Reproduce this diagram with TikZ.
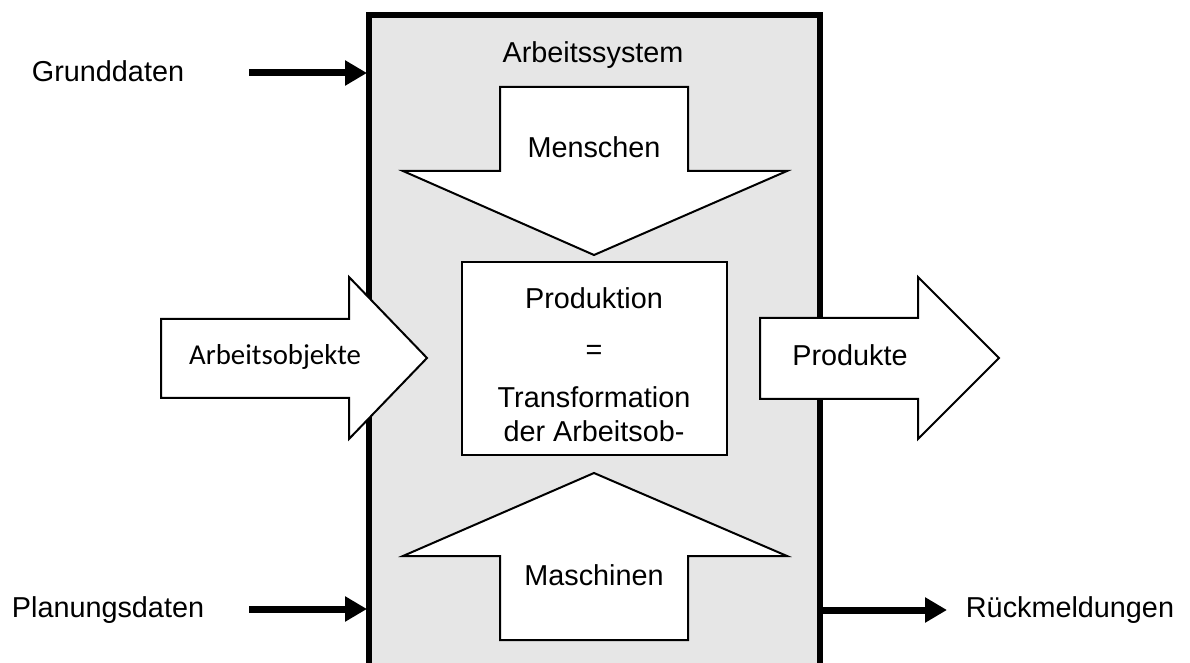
\documentclass[tikz,border=0pt]{standalone}
\usepackage{fontspec}
\setmainfont{Liberation Sans}
\newfontfamily\calibrifont{Carlito}
\usetikzlibrary{arrows.meta}
\definecolor{sysgray}{RGB}{230,230,230}
\begin{document}
\begin{tikzpicture}[x=0.5pt,y=-0.5pt,
  sysframe/.style={fill=sysgray,draw=black,line width=3pt},
  procbox/.style={fill=white,draw=black,line width=1pt},
  blockarrow/.style={fill=white,draw=black,line width=1pt,line join=miter},
  datarrow/.style={draw=black,line width=3.5pt,-{Triangle[length=11pt,width=12pt]}},
  lbl/.style={inner sep=0pt,anchor=base,font=\fontsize{14.4}{17}\selectfont},
  lblc/.style={lbl,font=\calibrifont\fontsize{14.4}{17}\selectfont}]
\useasboundingbox (0,0) rectangle (1190,663);
\clip (0,0) rectangle (1190,663);

% work system frame (runs past the lower edge)
\path[sysframe] (369,700) -- (369,15) -- (820,15) -- (820,700);

% central production box
\path[procbox] (462,262) rectangle (727,455);

% block arrows
\path[blockarrow] (500,87) -- (688,87) -- (688,171) -- (787,171) -- (594,255)
  -- (403,171) -- (500,171) -- cycle;
\path[blockarrow] (500,640) -- (688,640) -- (688,556) -- (787,556) -- (594,473)
  -- (403,556) -- (500,556) -- cycle;
\path[blockarrow] (161,319) -- (349,319) -- (349,277) -- (427,358) -- (349,439)
  -- (349,398) -- (161,398) -- cycle;
\path[blockarrow] (760,318) -- (918,318) -- (918,277) -- (999,358) -- (918,439)
  -- (918,399) -- (760,399) -- cycle;

% labels
\node[lbl] (sys) at (593,63) {Arbeitssystem};
\node[lbl] (mensch) at (594,158) {Menschen};
\node[lbl] (prod) at (594,309) {Produktion};
\node[lbl] (eq) at (594,360) {=};
\node[lbl] (trans) at (594,408) {Transformation};
\node[lbl] (derab) at (594,442) {der Arbeitsob-};
\node[lbl] (masch) at (594,585) {Maschinen};
\node[lblc] (aobj) at (275,365) {Arbeitsobjekte};
\node[lbl] (produkte) at (850,366) {Produkte};
\node[lbl] (grund) at (108,82) {Grunddaten};
\node[lbl] (plan) at (108,617) {Planungsdaten};
\node[lbl] (rueck) at (1070,617) {Rückmeldungen};

% data flows
\coordinate (g0) at (249,73);
\coordinate (g1) at (367,73);
\coordinate (p0) at (249,609);
\coordinate (p1) at (367,609);
\coordinate (r0) at (823,610);
\coordinate (r1) at (947,610);
\draw[datarrow] (g0) -- (g1);
\draw[datarrow] (p0) -- (p1);
\draw[datarrow] (r0) -- (r1);
\end{tikzpicture}
\end{document}
